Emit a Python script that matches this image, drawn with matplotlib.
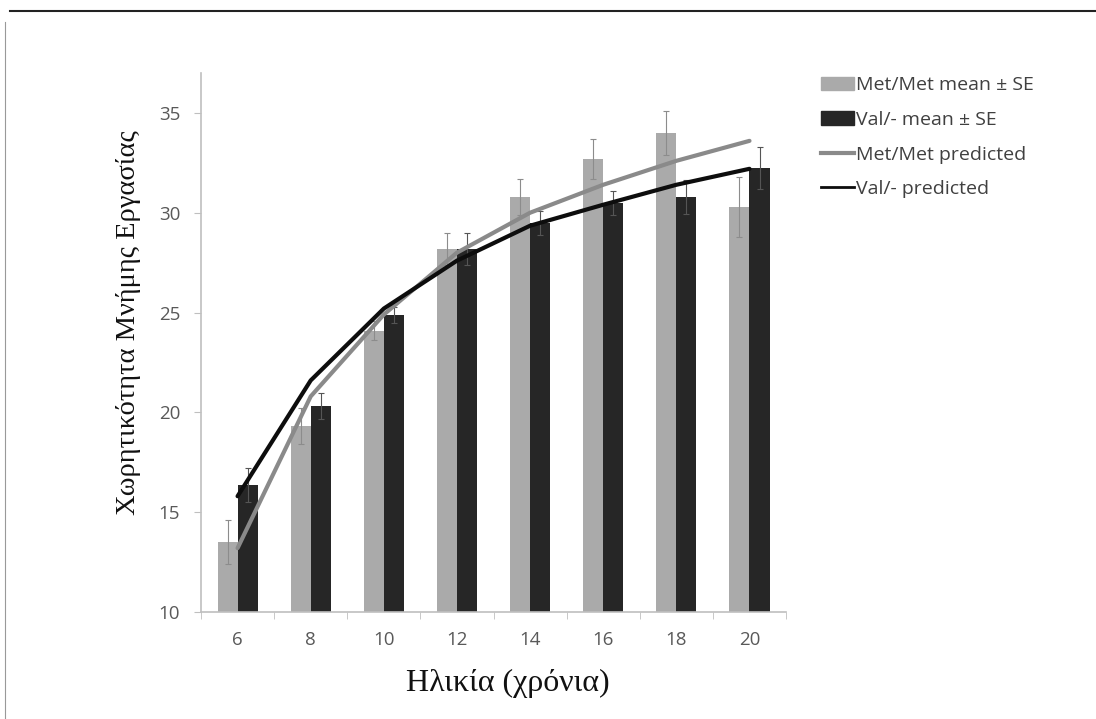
import numpy as np
import matplotlib.pyplot as plt
from matplotlib.lines import Line2D
from matplotlib.patches import Patch

# δεδομένα
ages = ['6', '8', '10', '12', '14', '16', '18', '20']
met_mean = [13.5, 19.3, 24.1, 28.2, 30.8, 32.7, 34.0, 30.3]
met_se = [1.1, 0.9, 0.5, 0.8, 0.9, 1.0, 1.1, 1.5]
val_mean = [16.35, 20.3, 24.9, 28.2, 29.5, 30.5, 30.8, 32.25]
val_se = [0.85, 0.65, 0.4, 0.8, 0.6, 0.6, 0.85, 1.05]
met_pred = [13.2, 20.8, 24.9, 28.0, 30.0, 31.4, 32.6, 33.6]
val_pred = [15.8, 21.6, 25.2, 27.6, 29.35, 30.4, 31.4, 32.2]

fig = plt.figure(figsize=(10.96, 7.19), dpi=100)
ax = fig.add_axes([0.1834, 0.1488, 0.5338, 0.7497])

x = np.arange(len(ages))
w = 0.274
ax.bar(x - w / 2, met_mean, w, bottom=0, color='#aaaaaa', zorder=2)
ax.bar(x + w / 2, val_mean, w, bottom=0, color='#262626', zorder=2)
ax.errorbar(x - w / 2, met_mean, yerr=met_se, fmt='none', ecolor='#8c8c8c',
            elinewidth=0.8, capsize=2.5, capthick=0.8, zorder=3)
ax.errorbar(x + w / 2, val_mean, yerr=val_se, fmt='none', ecolor='#555555',
            elinewidth=0.8, capsize=2.5, capthick=0.8, zorder=3)
ax.plot(x, met_pred, color='#8a8a8a', lw=3, zorder=4, solid_capstyle='round')
ax.plot(x, val_pred, color='#0d0d0d', lw=3, zorder=5, solid_capstyle='round')

ax.set_xlim(-0.5, 7.5)
ax.set_ylim(10, 37)
ax.set_yticks([10, 15, 20, 25, 30, 35])
ax.set_xticks(x)
ax.set_xticklabels(ages)
ax.set_xticks(np.arange(-0.5, 8, 1), minor=True)
ax.tick_params(axis='x', which='major', length=0, pad=14)
ax.tick_params(axis='x', which='minor', length=5, color='#bfbfbf')
ax.tick_params(axis='y', length=5, color='#bfbfbf', pad=10)
for lab in ax.get_xticklabels() + ax.get_yticklabels():
    lab.set_fontfamily('Open Sans')
    lab.set_fontsize(13.5)
    lab.set_color('#595959')
for s in ['top', 'right']:
    ax.spines[s].set_visible(False)
for s in ['left', 'bottom']:
    ax.spines[s].set_color('#bfbfbf')
    ax.spines[s].set_linewidth(1.2)

fig.text(0.4635, 0.05, 'Ηλικία (χρόνια)', family='Liberation Serif', fontsize=23,
         ha='center', va='center', color='#111111')
fig.text(0.117, 0.551, 'Χωρητικότητα Μνήμης Εργασίας', family='Liberation Serif',
         fontsize=20.5, rotation=90, ha='center', va='center', color='#111111')

handles = [Patch(color='#aaaaaa'), Patch(color='#262626'),
           Line2D([], [], color='#8a8a8a', lw=3), Line2D([], [], color='#0d0d0d', lw=2)]
labels = ['Met/Met mean ± SE', 'Val/- mean ± SE', 'Met/Met predicted', 'Val/- predicted']
leg = fig.legend(handles, labels, loc='upper left', bbox_to_anchor=(0.733, 0.918),
                 frameon=False, handlelength=1.7, handletextpad=0.1, labelspacing=0.85,
                 prop={'family': 'Open Sans', 'size': 14})
for t in leg.get_texts():
    t.set_color('#404040')

# рамка страницы
fig.add_artist(Line2D([0.009, 1.0], [0.985, 0.985], color='#222222', lw=1.5))
fig.add_artist(Line2D([0.005, 0.005], [0.0, 0.97], color='#999999', lw=0.8))

fig.savefig('out.png', dpi=100)
